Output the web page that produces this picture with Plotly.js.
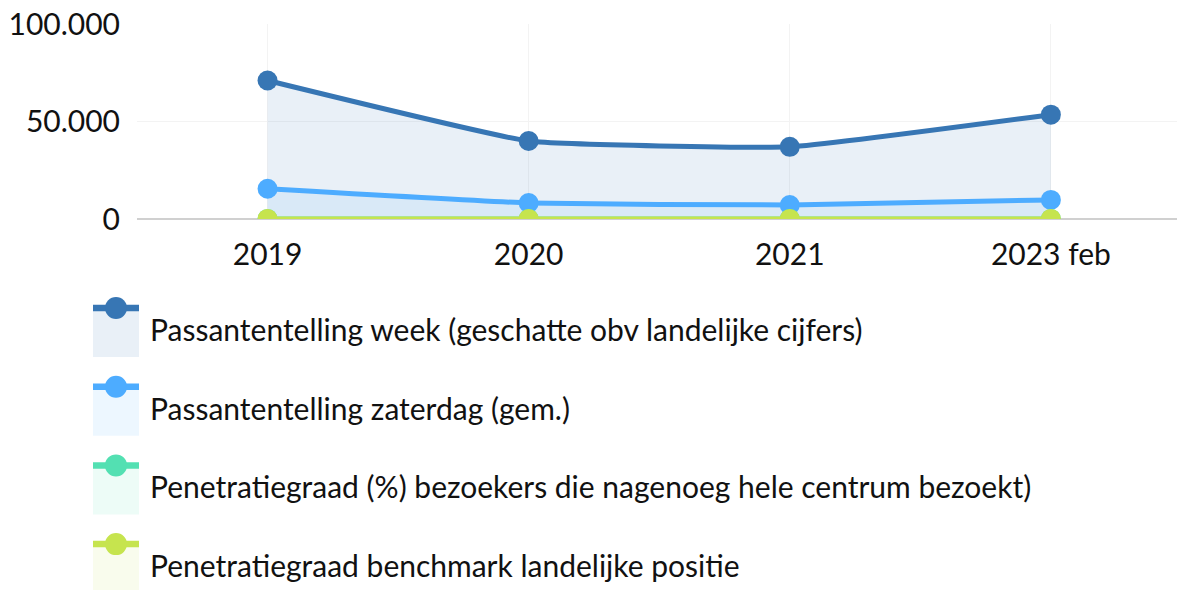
<!DOCTYPE html>
<html>
<head>
<meta charset="utf-8">
<script src="https://cdn.plot.ly/plotly-3.0.1.min.js"></script>
<style>html,body{margin:0;padding:0;background:#fff;}#chart{width:1177px;height:590px;}</style>
</head>
<body>
<div id="chart"></div>
<script>
const categories = ["2019", "2020", "2021", "2023 feb"];
const seriesNames = [
  "Passantentelling week (geschatte obv landelijke cijfers)",
  "Passantentelling zaterdag (gem.)",
  "Penetratiegraad (%) bezoekers die nagenoeg hele centrum bezoekt)",
  "Penetratiegraad benchmark landelijke positie"
];
const weekValues = [71000, 40000, 37000, 53500];
const saturdayValues = [15500, 8200, 7200, 9800];
const penetrationValues = [60, 58, 57, 59];
const benchmarkValues = [55, 55, 55, 55];
const yTickValues = [0, 50000, 100000];

const colors = ["#3776b4", "#4dacff", "#53e0b2", "#c6e44e"];
const fills = ["rgba(55,118,180,0.11)", "rgba(77,172,255,0.1)", "rgba(83,224,178,0.1)", "rgba(198,228,78,0.1)"];
const allValues = [weekValues, saturdayValues, penetrationValues, benchmarkValues];

const W = 1177, H = 590;
const mL = 137, mR = 0, mT = 24, mB = 371;
const pw = W - mL - mR, ph = H - mT - mB;
const px = x => (x - mL) / pw;
const py = y => (H - mB - y) / ph;

const traces = allValues.map((vals, i) => ({
  type: "scatter",
  mode: "lines+markers",
  x: categories,
  y: vals,
  name: seriesNames[i],
  fill: "tozeroy",
  fillcolor: fills[i],
  line: {color: colors[i], width: 5, shape: "spline", smoothing: 0.35},
  marker: {color: colors[i], size: 20},
  showlegend: false,
  cliponaxis: true
}));

// custom legend
const shapes = [];
const annotations = [];
const legTop = 308, legStep = 78.7, boxH = 49, boxL = 93, boxR = 139;
seriesNames.forEach((name, i) => {
  const top = legTop + i * legStep;
  shapes.push({type: "rect", xref: "paper", yref: "paper",
    x0: px(boxL), x1: px(boxR), y0: py(top + boxH), y1: py(top),
    fillcolor: fills[i], line: {width: 0}, layer: "above"});
  shapes.push({type: "line", xref: "paper", yref: "paper",
    x0: px(boxL), x1: px(boxR), y0: py(top), y1: py(top),
    line: {color: colors[i], width: 6.5}, layer: "above"});
  shapes.push({type: "circle", xref: "paper", yref: "paper",
    x0: px(116 - 11), x1: px(116 + 11), y0: py(top - 11), y1: py(top + 11),
    fillcolor: colors[i], line: {width: 0}, layer: "above"});
  annotations.push({xref: "paper", yref: "paper", x: px(148), y: py(top + 21),
    xanchor: "left", yanchor: "middle", showarrow: false, text: name,
    font: {family: "Lato", size: 30, color: "#111"}});
});

const layout = {
  width: W, height: H,
  margin: {l: mL, r: mR, t: mT, b: mB, pad: 0},
  paper_bgcolor: "#fff", plot_bgcolor: "#fff",
  separators: ",.",
  font: {family: "Lato", size: 30, color: "#111"},
  showlegend: false,
  xaxis: {
    type: "category", range: [-0.5, 3.483],
    showgrid: true, gridcolor: "#f3f3f3", gridwidth: 1,
    zeroline: false, showline: false, ticks: "",
    ticklabelstandoff: 15,
    tickfont: {family: "Lato", size: 30, color: "#111"},
    fixedrange: true
  },
  yaxis: {
    range: [0, 100000], tickvals: yTickValues, tickformat: ",",
    showgrid: true, gridcolor: "#f3f3f3", gridwidth: 1,
    zeroline: true, zerolinecolor: "#d0d0d0", zerolinewidth: 2,
    showline: false, ticks: "",
    ticklabelstandoff: 16,
    tickfont: {family: "Lato", size: 30, color: "#111"},
    fixedrange: true
  },
  shapes: shapes,
  annotations: annotations
};

Plotly.newPlot("chart", traces, layout, {displayModeBar: false, staticPlot: true});
</script>
</body>
</html>
